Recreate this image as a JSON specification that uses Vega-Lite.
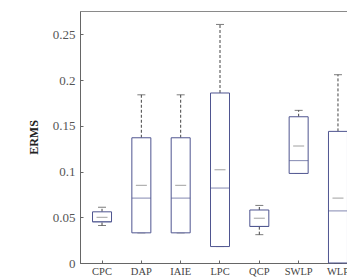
{
  "$schema": "https://vega.github.io/schema/vega-lite/v6.json",
  "width": 280,
  "height": 252,
  "autosize": "none",
  "padding": {"left": 80, "top": 11, "right": 0, "bottom": 15},
  "background": "white",
  "config": {"view": {"stroke": "#8a8a8a", "strokeWidth": 1}, "font": "Liberation Serif"},
  "data": {"values": [
    {"method": "CPC", "max": 0.061, "q3": 0.056, "mid": 0.050, "wide": 0.045, "lo": 0.045, "min": 0.041},
    {"method": "DAP", "max": 0.184, "q3": 0.137, "mid": 0.085, "wide": 0.071, "lo": 0.033, "min": 0.033},
    {"method": "IAIE", "max": 0.184, "q3": 0.137, "mid": 0.085, "wide": 0.071, "lo": 0.033, "min": 0.033},
    {"method": "LPC", "max": 0.261, "q3": 0.186, "mid": 0.102, "wide": 0.082, "lo": 0.018, "min": 0.018},
    {"method": "QCP", "max": 0.063, "q3": 0.058, "mid": 0.049, "wide": 0.040, "lo": 0.040, "min": 0.031},
    {"method": "SWLP", "max": 0.167, "q3": 0.160, "mid": 0.128, "wide": 0.112, "lo": 0.098, "min": 0.098},
    {"method": "WLP", "max": 0.206, "q3": 0.144, "mid": 0.071, "wide": 0.057, "lo": 0.0, "min": 0.0}
  ]},
  "encoding": {
    "x": {
      "field": "method", "type": "nominal", "sort": null,
      "scale": {"paddingInner": 0, "paddingOuter": 0.06},
      "axis": {"title": null, "labelAngle": 0, "labelFontSize": 10.5, "labelColor": "#444", "domainColor": "#666", "tickColor": "#666", "tickSize": -3, "labelPadding": 6}
    }
  },
  "layer": [
    {
      "mark": {"type": "rule", "color": "#444", "strokeDash": [3, 2], "strokeWidth": 1},
      "encoding": {
        "y": {"field": "q3", "type": "quantitative", "scale": {"domain": [0, 0.2757], "nice": false, "zero": true},
          "axis": {"values": [0, 0.05, 0.1, 0.15, 0.2, 0.25], "labelExpr": "format(datum.value, '~g')", "grid": false,
            "title": "ERMS", "titleFontWeight": "bold", "titleFontSize": 12, "titleColor": "#222", "titlePadding": 12,
            "labelFontSize": 13, "labelColor": "#555", "domainColor": "#666", "tickColor": "#666", "tickSize": -3, "labelPadding": 8}},
        "y2": {"field": "max"}
      }
    },
    {
      "mark": {"type": "rule", "color": "#444", "strokeDash": [3, 2], "strokeWidth": 1},
      "encoding": {"y": {"field": "min", "type": "quantitative"}, "y2": {"field": "lo"}}
    },
    {
      "mark": {"type": "tick", "color": "#444", "size": 8, "thickness": 1},
      "encoding": {"y": {"field": "max", "type": "quantitative"}}
    },
    {
      "mark": {"type": "tick", "color": "#444", "size": 8, "thickness": 1},
      "encoding": {"y": {"field": "min", "type": "quantitative"}}
    },
    {
      "mark": {"type": "bar", "width": 19, "fill": "white", "stroke": "#4f5590", "strokeWidth": 1},
      "encoding": {"y": {"field": "lo", "type": "quantitative"}, "y2": {"field": "q3"}}
    },
    {
      "mark": {"type": "tick", "color": "#777", "size": 11, "thickness": 1},
      "encoding": {"y": {"field": "mid", "type": "quantitative"}}
    },
    {
      "mark": {"type": "tick", "color": "#4f5590", "size": 19, "thickness": 1},
      "encoding": {"y": {"field": "wide", "type": "quantitative"}}
    }
  ]
}
